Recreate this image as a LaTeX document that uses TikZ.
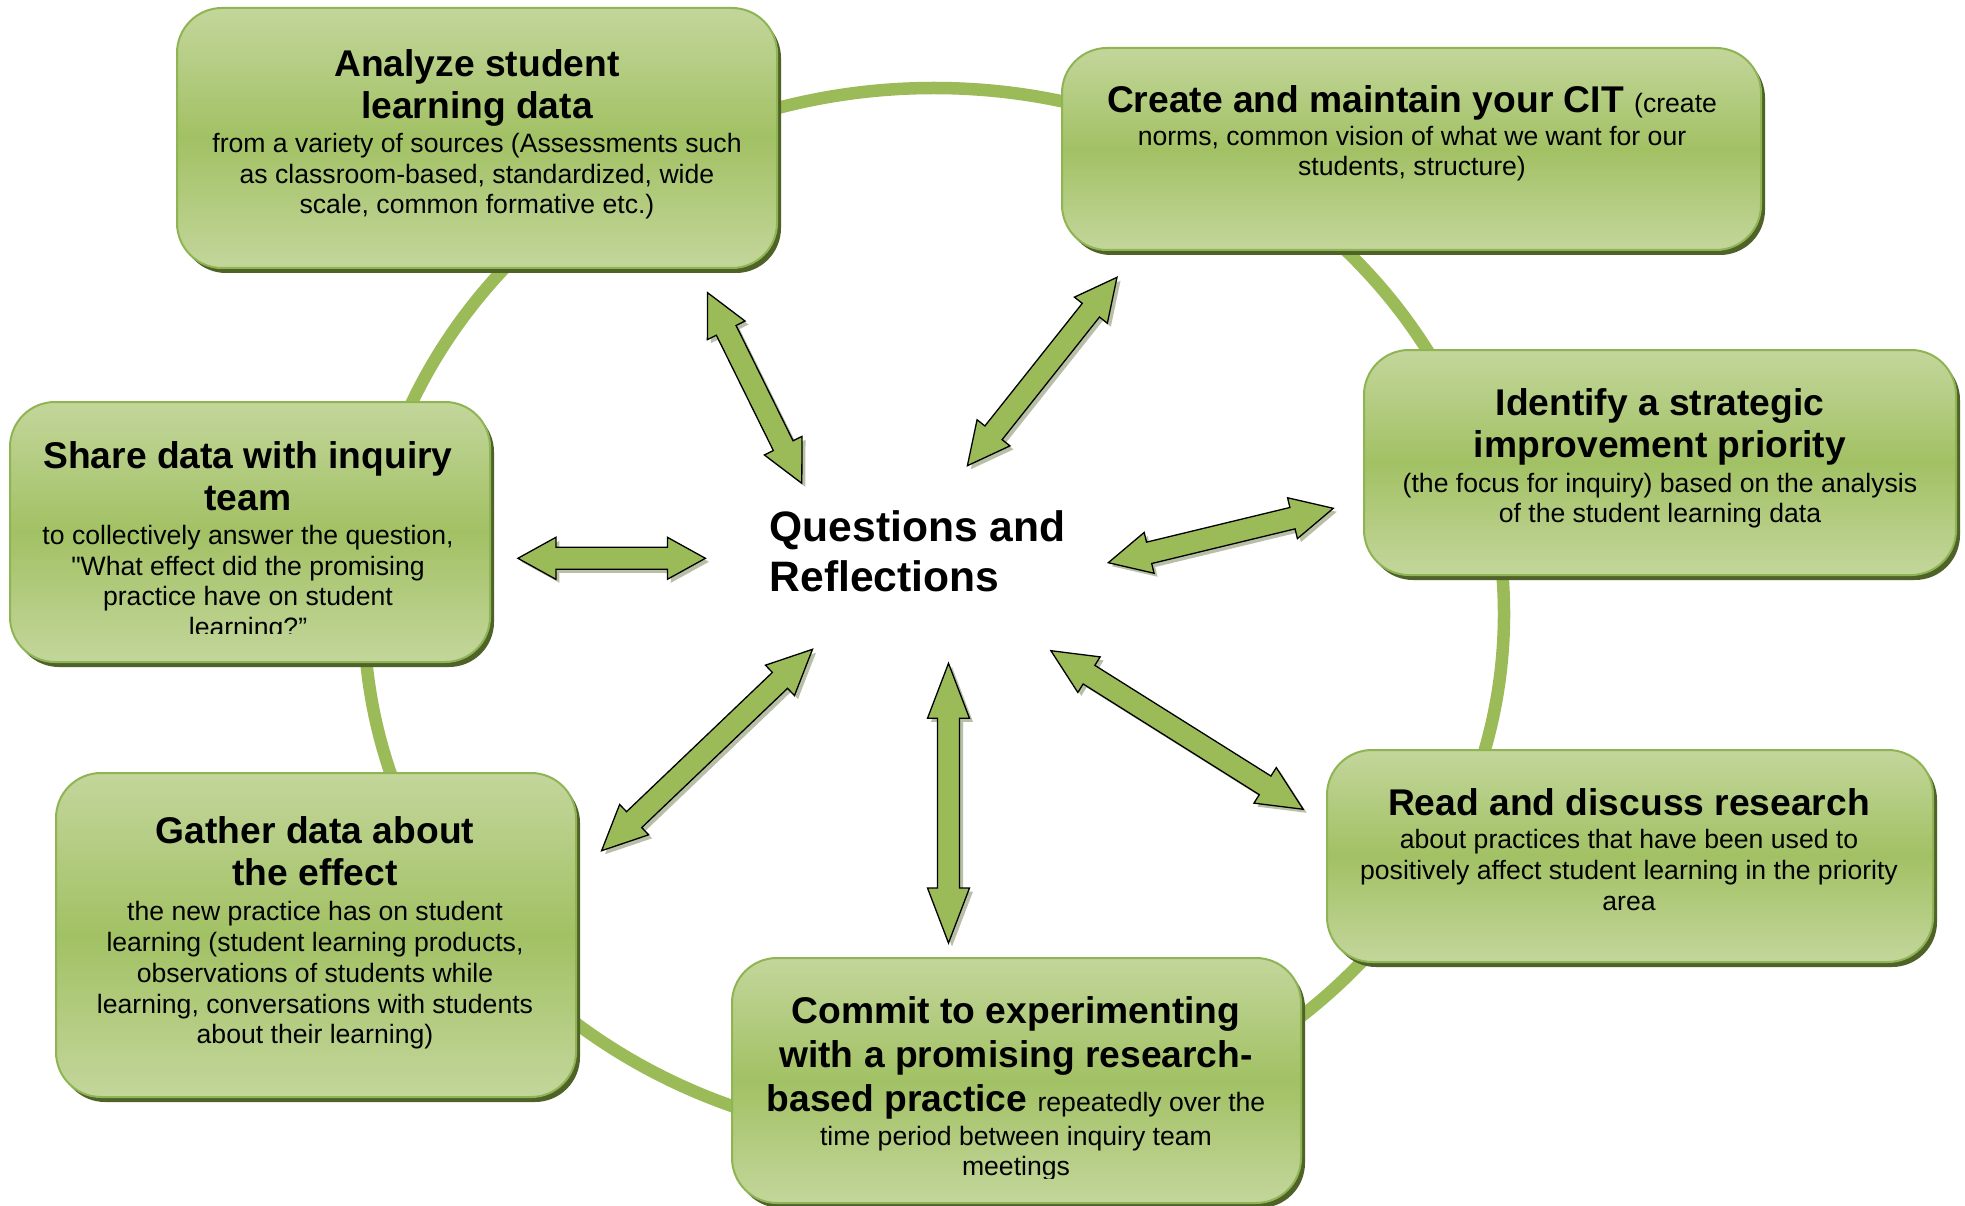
\documentclass[tikz,border=0pt]{standalone}
\usepackage{fontspec}
\setmainfont{Liberation Sans}
\newfontfamily\plainqfont{Liberation Sans}
\usetikzlibrary{calc}
\definecolor{ringgreen}{HTML}{9BBB59}
\definecolor{boxlight}{HTML}{C3D69B}
\definecolor{boxmid}{HTML}{A2C164}
\definecolor{boxborder}{HTML}{8FB454}
\definecolor{boxshadow}{HTML}{4F6228}
\definecolor{arrfill}{HTML}{9BBB59}
\definecolor{arrshade}{HTML}{7F8C5F}
\newcommand\ttlf{\fontsize{37.2}{42.8}\selectfont\bfseries\spaceskip=0pt\xspaceskip=0pt}
\newcommand\bdyf{\fontsize{26.6}{30.6}\selectfont\mdseries\spaceskip=0pt\xspaceskip=0pt}
\newcommand\qfont{\fontsize{42.6}{50}\selectfont\bfseries}
\newcommand\gapttl{\vskip 3.2pt}
% double block arrow between two named coordinates, head length #3
\newcommand\blockarrow[3]{%
  \path ($(#1)!#3!(#2)$) coordinate (hp) ($(#2)!#3!(#1)$) coordinate (hq);
  \fill[arrshadowstyle] (#1) -- ($(hp)!21pt!90:(#2)$) -- ($(hp)!11pt!90:(#2)$) -- ($(hq)!11pt!-90:(#1)$) -- ($(hq)!21pt!-90:(#1)$) -- (#2) -- ($(hq)!21pt!90:(#1)$) -- ($(hq)!11pt!90:(#1)$) -- ($(hp)!11pt!-90:(#2)$) -- ($(hp)!21pt!-90:(#2)$) -- cycle;
  \draw[arrbodystyle] (#1) -- ($(hp)!21pt!90:(#2)$) -- ($(hp)!11pt!90:(#2)$) -- ($(hq)!11pt!-90:(#1)$) -- ($(hq)!21pt!-90:(#1)$) -- (#2) -- ($(hq)!21pt!90:(#1)$) -- ($(hq)!11pt!90:(#1)$) -- ($(hp)!11pt!-90:(#2)$) -- ($(hp)!21pt!-90:(#2)$) -- cycle;
}
\begin{document}
\begin{tikzpicture}[x=1pt,y=-1pt,
  gbox/.style={rectangle, rounded corners=45pt, draw=boxborder, line width=2pt,
    top color=boxlight, bottom color=boxlight, middle color=boxmid, inner sep=0pt,
    preaction={fill=boxshadow, transform canvas={shift={(4pt,-5pt)}}}},
  txt/.style={align=flush center, inner sep=0pt, anchor=north, text=black,
    execute at begin node=\setlength{\parindent}{0pt}},
  arrbodystyle/.style={fill=arrfill, draw=black, line width=1.3pt, line join=miter},
  arrshadowstyle/.style={fill=arrshade, opacity=0.55, transform canvas={shift={(3.5pt,-3.5pt)}}},
  ring/.style={draw=ringgreen, line width=12.5pt}
]
\useasboundingbox (0,0) rectangle (1965,1206);
\clip (0,0) rectangle (1965,1206);
\fill[white] (0,0) rectangle (1965,1206);

% ring
\draw[ring] (934,614) ellipse [x radius=570pt, y radius=526pt];

% arrows
\coordinate (a1s) at (707.6,292.7);  \coordinate (a1e) at (801.8,483.3);
\coordinate (a2s) at (1117,277.3);   \coordinate (a2e) at (967.4,465.7);
\coordinate (a3s) at (1333.3,508.3); \coordinate (a3e) at (1108.3,562.7);
\coordinate (a4s) at (1050.9,650.7); \coordinate (a4e) at (1303.2,809.3);
\coordinate (a5s) at (948.5,663.3);  \coordinate (a5e) at (948.5,943);
\coordinate (a6s) at (812.5,649.3);  \coordinate (a6e) at (601.6,850.7);
\coordinate (a7s) at (517.9,558.3);  \coordinate (a7e) at (705.4,558.3);
\blockarrow{a1s}{a1e}{42pt}
\blockarrow{a2s}{a2e}{42pt}
\blockarrow{a3s}{a3e}{42pt}
\blockarrow{a4s}{a4e}{45pt}
\blockarrow{a5s}{a5e}{55pt}
\blockarrow{a6s}{a6e}{45pt}
\blockarrow{a7s}{a7e}{38pt}

% boxes
\node[gbox, minimum width=600pt, minimum height=260pt] (b1) at (477,138) {};
\node[gbox, minimum width=699pt, minimum height=202pt] (b2) at (1411.5,149) {};
\node[gbox, minimum width=592pt, minimum height=225pt] (b3) at (1660,462.5) {};
\node[gbox, minimum width=606pt, minimum height=212pt] (b4) at (1630,856) {};
\node[gbox, minimum width=569pt, minimum height=245pt] (b5) at (1016.5,1080.5) {};
\node[gbox, minimum width=520pt, minimum height=324pt] (b6) at (316,935) {};
\node[gbox, minimum width=480pt, minimum height=260pt] (b7) at (250,532) {};

% texts
\node[txt, text width=590pt] (t1) at (477,49) {{\ttlf Analyze student\\learning data\par}\gapttl{\bdyf from a variety of sources (Assessments such\\as classroom-based, standardized, wide\\scale, common formative etc.)\par}};
\node[txt, text width=690pt] (t2) at (1412,85) {{\ttlf Create and maintain your CIT {\fontsize{26.6}{42.8}\selectfont\mdseries (create}\par}\vskip 2.5pt{\bdyf norms, common vision of what we want for our\\students, structure)\par}};
\node[txt, text width=590pt] (t3) at (1660,388) {{\ttlf Identify a strategic\\improvement priority\par}\vskip 3.8pt{\bdyf (the focus for inquiry) based on the analysis\\of the student learning data\par}};
\node[txt, text width=600pt] (t4) at (1629,788) {{\ttlf Read and discuss research\par}\gapttl{\bdyf about practices that have been used to\\positively affect student learning in the priority\\area\par}};
\begin{scope}
\clip (700,940) rectangle (1320,1178);
\node[txt, text width=560pt] (t5) at (1016,996) {{\ttlf\fontsize{37.2}{44}\selectfont Commit to experimenting\\with a promising research-\\based practice {\fontsize{26.6}{44}\selectfont\mdseries repeatedly over the}\par}\vskip 3.5pt{\bdyf time period between inquiry team\\meetings\par}};
\end{scope}
\node[txt, text width=515pt] (t6) at (315,816) {{\ttlf Gather data about\\the effect\par}\vskip 3.5pt{\bdyf\fontsize{26.6}{30.9}\selectfont the new practice has on student\\learning (student learning products,\\observations of students while\\learning, conversations with students\\about their learning)\par}};
\begin{scope}
\clip (0,380) rectangle (500,633);
\node[txt, text width=475pt] (t7) at (248,441) {{\ttlf Share data with inquiry\\team\par}\gapttl{\bdyf to collectively answer the question,\\{\plainqfont"}What effect did the promising\\practice have on student\\learning?”\par}};
\end{scope}

% centre text
\node[align=left, anchor=north west, inner sep=0pt, font=\qfont] (q) at (769.5,510) {Questions and\\Reflections};
\end{tikzpicture}
\end{document}
